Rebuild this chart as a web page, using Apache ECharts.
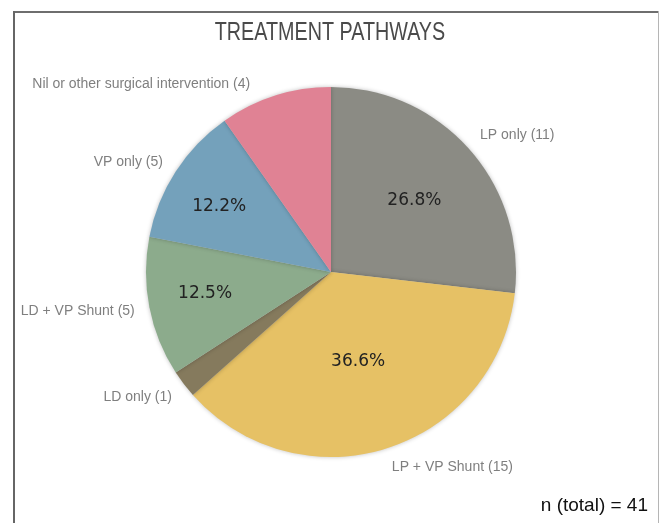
<!DOCTYPE html>
<html>
<head>
<meta charset="utf-8">
<script src="https://cdn.jsdelivr.net/npm/echarts@6/dist/echarts.min.js"></script>
<style>
html,body{margin:0;padding:0;background:#fff;}
#chart{width:660px;height:523px;}
</style>
</head>
<body>
<div id="chart"></div>
<script>
// ---- data ----
const categories = ['LP only', 'LP + VP Shunt', 'LD only', 'LD + VP Shunt', 'VP only', 'Nil or other surgical intervention'];
const counts = [11, 15, 1, 5, 5, 4];
const percentLabels = ['26.8%', '36.6%', '', '12.5%', '12.2%', ''];
const totalN = 41;
const chartTitle = 'TREATMENT PATHWAYS';

// ---- styles ----
const colors = ['#8b8b84', '#e6c165', '#857a5d', '#8cab8c', '#74a1bb', '#e08294'];
const outerNudge = [[-9, 0], [-6, 0], [9, 1], [10, 0], [9, 2], [-14, 8]];
const innerNudge = [[-1, 4], [-7, -18], [0, 0], [-15, 0], [-17, -4], [0, 0]];

const chart = echarts.init(document.getElementById('chart'), null, {renderer: 'canvas'});

const mainData = categories.map((c, i) => ({
  name: c,
  value: counts[i],
  itemStyle: {color: colors[i]}
}));
const overlayData = categories.map((c, i) => ({
  name: c,
  value: counts[i],
  label: {formatter: percentLabels[i]}
}));

chart.setOption({
  animation: false,
  graphic: [
    {type: 'line', shape: {x1: 13, y1: 12, x2: 659, y2: 12}, style: {stroke: '#6e6e6e', lineWidth: 2}, silent: true},
    {type: 'line', shape: {x1: 14, y1: 11, x2: 14, y2: 523}, style: {stroke: '#666666', lineWidth: 2}, silent: true},
    {type: 'line', shape: {x1: 658.5, y1: 11, x2: 658.5, y2: 523}, style: {stroke: '#b5b5b5', lineWidth: 1}, silent: true},
    {type: 'text', x: 330, y: 33, scaleX: 0.79, silent: true,
      style: {text: chartTitle, textAlign: 'center', textVerticalAlign: 'middle', fontFamily: 'Liberation Sans, sans-serif', fontSize: 25, fill: '#4a4a4a'}},
    {type: 'text', right: 12, top: 496, style: {text: 'n (total) = ' + totalN, fontFamily: 'Liberation Sans, sans-serif', fontSize: 19, fill: '#111111'}, silent: true}
  ],
  series: [
    {
      type: 'pie',
      center: [331, 272],
      radius: [0, 185],
      startAngle: 90,
      clockwise: true,
      avoidLabelOverlap: false,
      silent: true,
      itemStyle: {shadowBlur: 4, shadowColor: 'rgba(0,0,0,0.25)'},
      label: {
        show: true,
        position: 'outside',
        formatter: p => p.name + ' (' + p.value + ')',
        fontFamily: 'Liberation Sans, sans-serif',
        fontSize: 14,
        color: '#7f7f7f',
        distanceToLabelLine: 5
      },
      labelLine: {show: false, length: 20, length2: 0},
      labelLayout: p => ({dx: outerNudge[p.dataIndex][0], dy: outerNudge[p.dataIndex][1]}),
      data: mainData
    },
    {
      type: 'pie',
      center: [331, 272],
      radius: [0, 220],
      startAngle: 90,
      clockwise: true,
      avoidLabelOverlap: false,
      silent: true,
      itemStyle: {color: 'rgba(0,0,0,0)'},
      label: {
        show: true,
        position: 'inside',
        fontFamily: 'DejaVu Sans, sans-serif',
        fontSize: 17,
        color: '#222222'
      },
      labelLine: {show: false},
      labelLayout: p => ({dx: innerNudge[p.dataIndex][0], dy: innerNudge[p.dataIndex][1]}),
      data: overlayData
    }
  ]
});
</script>
</body>
</html>
